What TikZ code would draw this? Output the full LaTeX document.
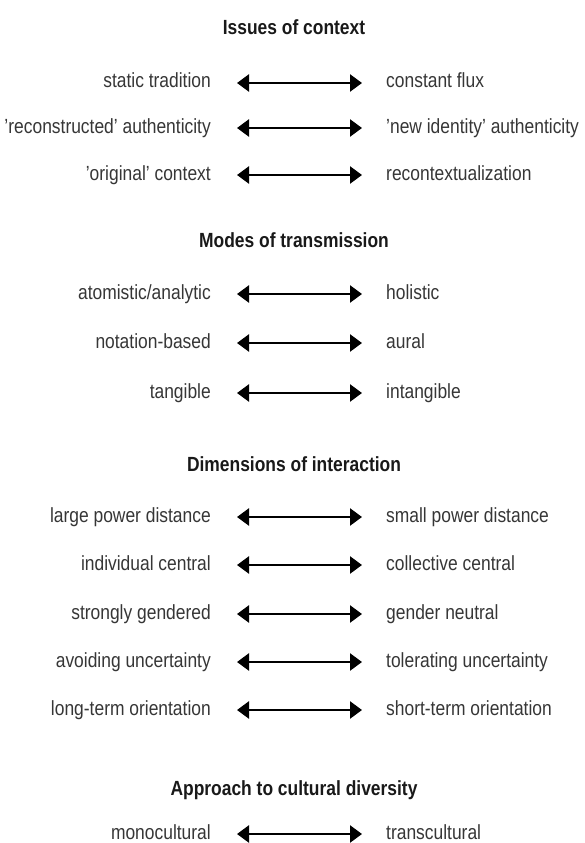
\documentclass[tikz,border=0pt]{standalone}
\usepackage{fontspec}
\setmainfont{Liberation Sans}[FakeStretch=0.85]
\usetikzlibrary{arrows.meta}
\definecolor{polegray}{HTML}{363636}
\tikzset{>={Triangle[length=12pt,width=17pt]}}
\tikzset{pole/.style={font=\fontsize{20.5}{24}\selectfont, text=polegray, inner sep=0, text height=14pt, text depth=4pt}}
\tikzset{heading/.style={font=\fontsize{20.5}{24}\selectfont\bfseries, text=black!90, inner sep=0}}
\tikzset{spectrum/.style={<->, line width=2.5pt, shorten <=26pt, shorten >=24pt}}
\newcommand{\drawleft}{\node[pole,anchor=east]}
\newcommand{\drawright}{\node[pole,anchor=west]}

\begin{document}
\begin{tikzpicture}[x=1pt,y=-1pt]
	\useasboundingbox (0,0) rectangle (585,843);
	
	% issues of context
	\node[heading] (ctx) at (294,27) {Issues of context};
	\drawleft (ctx1l) at (211,83) {static tradition};
	\drawright (ctx1r) at (386,83) {constant flux};
	\drawleft (ctx2l) at (211,128) {'reconstructed' authenticity};
	\drawright (ctx2r) at (386,128) {'new identity' authenticity};
	\drawleft (ctx3l) at (211,175) {'original' context};
	\drawright (ctx3r) at (386,175) {recontextualization};
	
	\draw[spectrum] (ctx1l) -- (ctx1r);
	\draw[spectrum] (ctx2l) -- (ctx2r);
	\draw[spectrum] (ctx3l) -- (ctx3r);
	
	% modes of transmission
	\node[heading] (mod) at (294,240) {Modes of transmission};
	\drawleft (mod1l) at (211,294) {atomistic/analytic};
	\drawright (mod1r) at (386,294) {holistic};
	\drawleft (mod2l) at (211,343) {notation-based};
	\drawright (mod2r) at (386,343) {aural};
	\drawleft (mod3l) at (211,393) {tangible};
	\drawright (mod3r) at (386,393) {intangible};
	
	\draw[spectrum] (mod1l) -- (mod1r);
	\draw[spectrum] (mod2l) -- (mod2r);
	\draw[spectrum] (mod3l) -- (mod3r);
	
	% dimensions of interaction
	\node[heading] (dim) at (294,464) {Dimensions of interaction};
	\drawleft (dim1l) at (211,517) {large power distance};
	\drawright (dim1r) at (386,517) {small power distance};
	\drawleft (dim2l) at (211,565) {individual central};
	\drawright (dim2r) at (386,565) {collective central};
	\drawleft (dim3l) at (211,614) {strongly gendered};
	\drawright (dim3r) at (386,614) {gender neutral};
	\drawleft (dim4l) at (211,662) {avoiding uncertainty};
	\drawright (dim4r) at (386,662) {tolerating uncertainty};
	\drawleft (dim5l) at (211,710) {long-term orientation};
	\drawright (dim5r) at (386,710) {short-term orientation};
	
	\draw[spectrum] (dim1l) -- (dim1r);
	\draw[spectrum] (dim2l) -- (dim2r);
	\draw[spectrum] (dim3l) -- (dim3r);
	\draw[spectrum] (dim4l) -- (dim4r);
	\draw[spectrum] (dim5l) -- (dim5r);
	
	% approach to cultural diversity
	\node[heading] (div) at (294,790) {Approach to cultural diversity};
	\drawleft (div1l) at (211,834) {monocultural};
	\drawright (div1r) at (386,834) {transcultural};
	
	\draw[spectrum] (div1l) -- (div1r);
	
\end{tikzpicture}
\end{document}
